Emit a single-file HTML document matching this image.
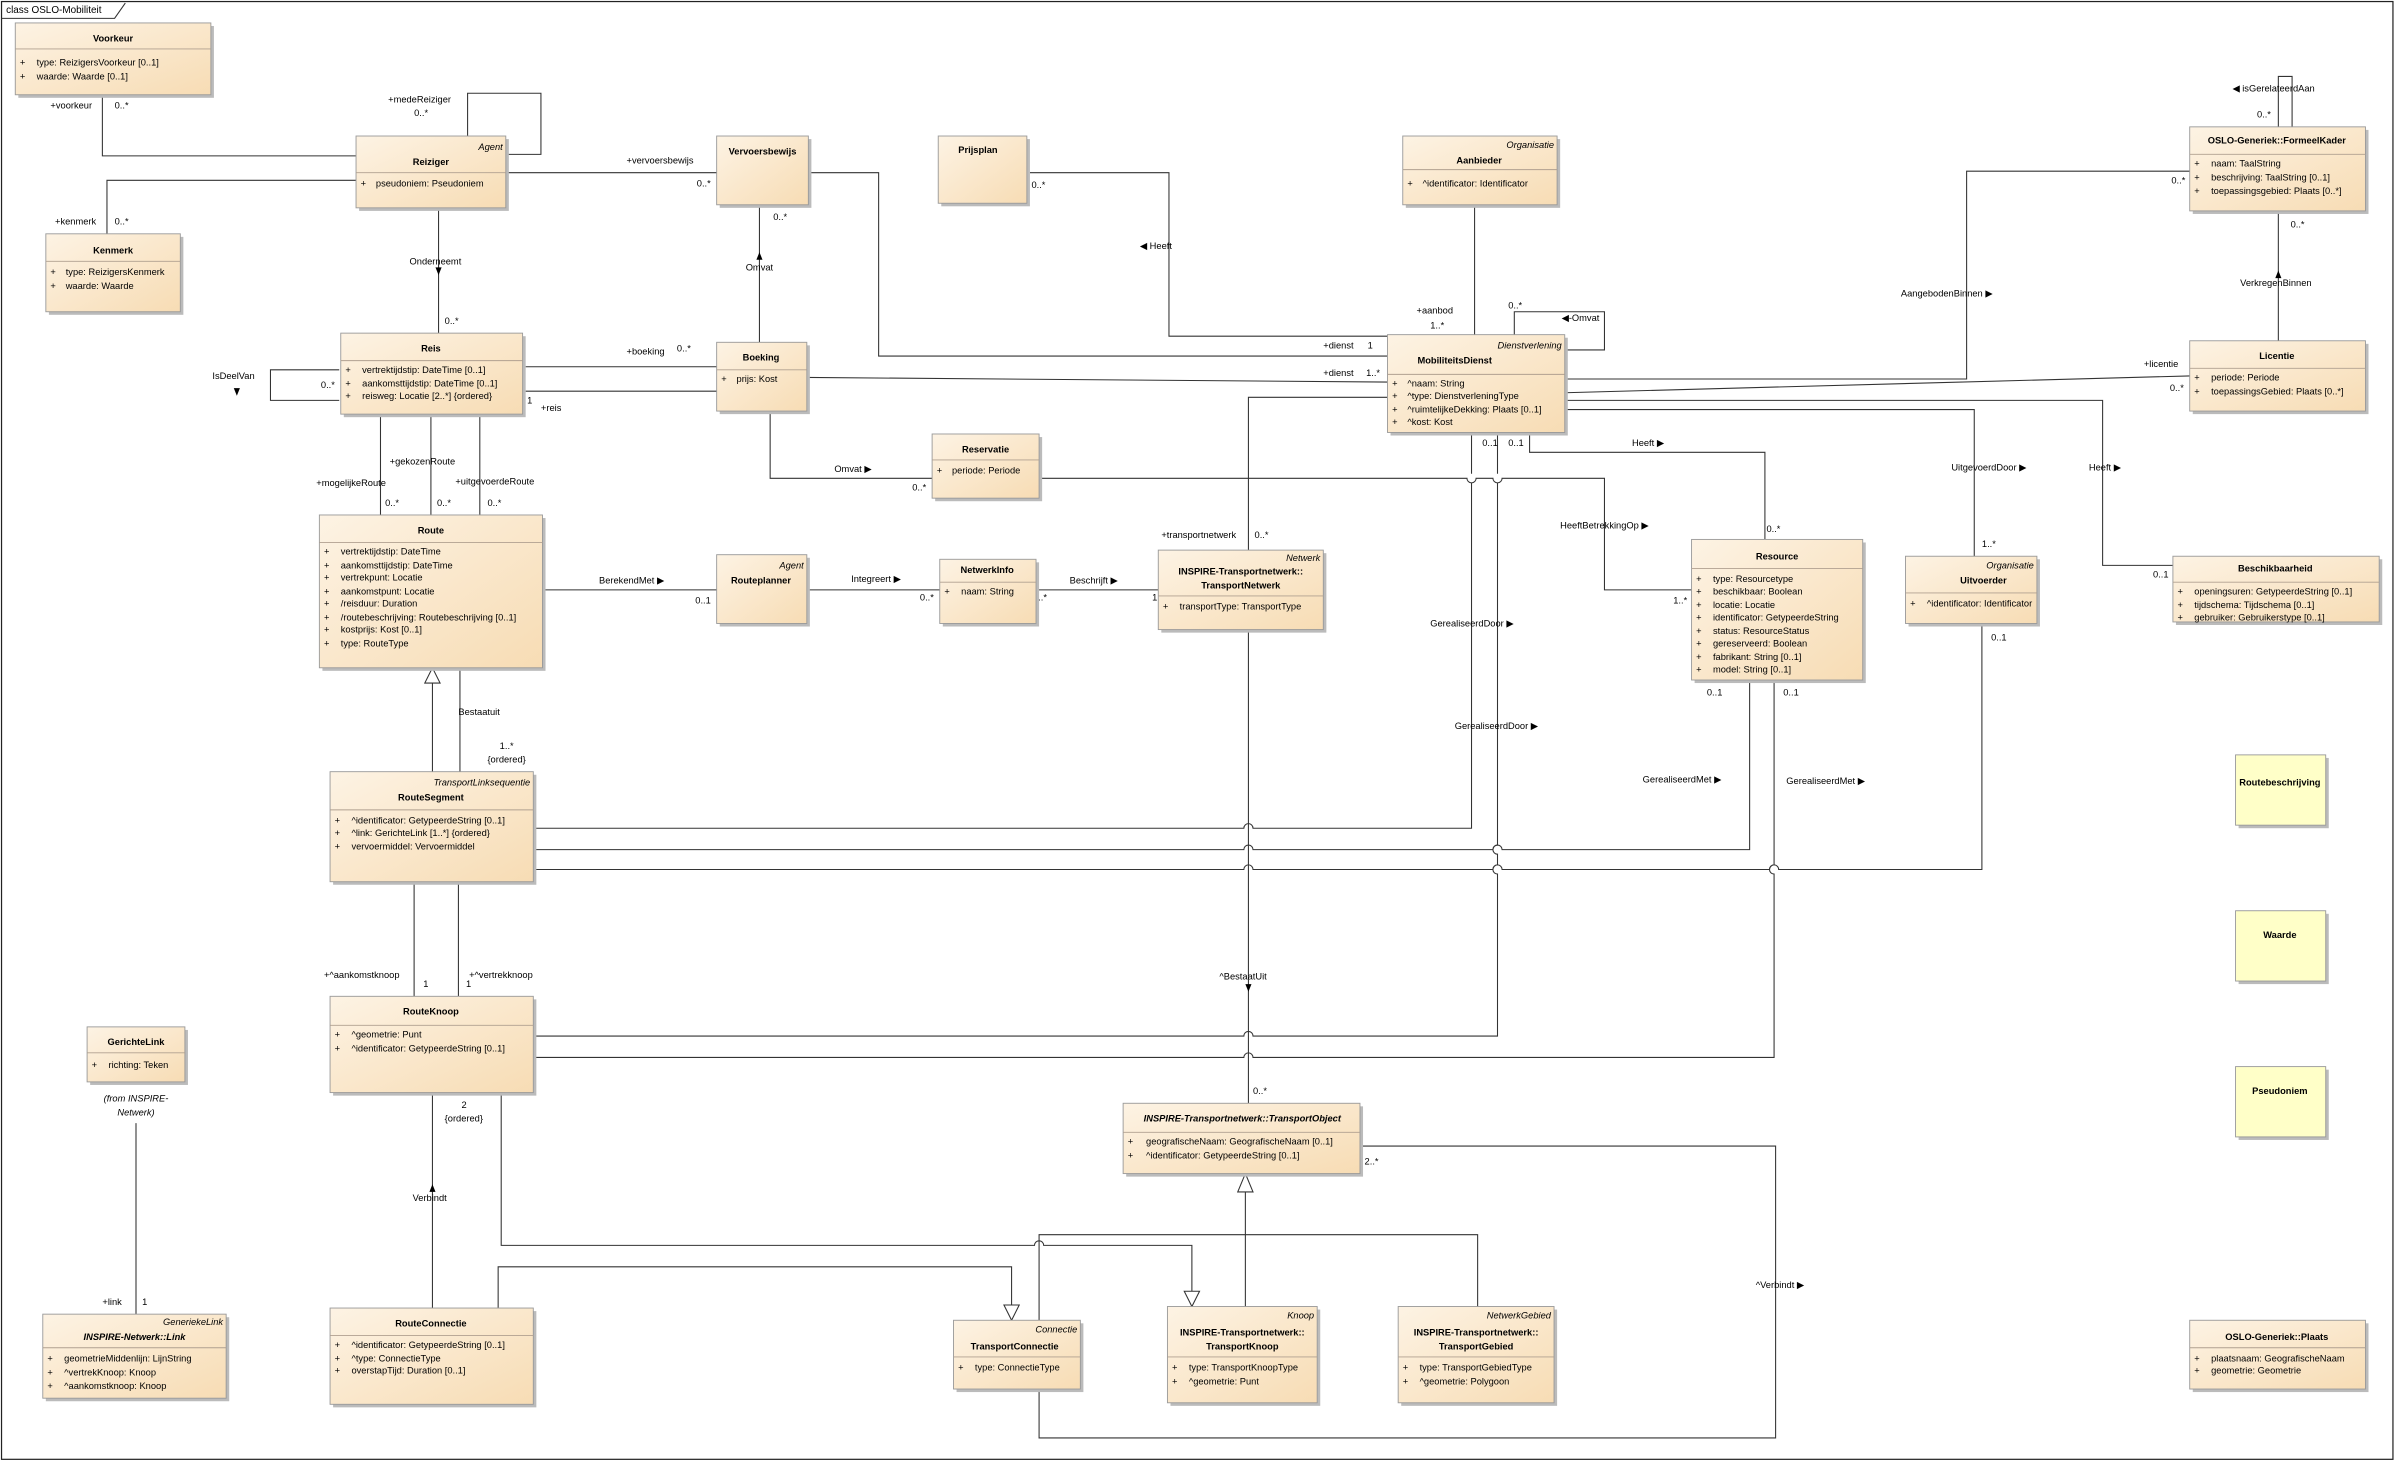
<!DOCTYPE html>
<html><head><meta charset="utf-8"><style>
html,body{margin:0;padding:0;background:#fff}
svg{display:block}
text{font-family:"Liberation Sans",sans-serif;font-size:6.1px;fill:#000}
.b{font-weight:bold;text-anchor:middle}
.i{font-style:italic}
.s{font-style:italic;text-anchor:end}
.m{text-anchor:middle}
.l{fill:none;stroke:#333;stroke-width:0.7}
.bx{fill:url(#g);stroke:#9a9a9a;stroke-width:0.6}
.sh{fill:#bbb}
.dv{stroke:#b0a090;stroke-width:0.6}
.n{fill:#ffffc8;stroke:#9a9a9a;stroke-width:0.6}
</style></head><body>
<svg width="2396" height="1463" viewBox="0 0 1568 957.4" xmlns="http://www.w3.org/2000/svg">
<defs>
<linearGradient id="g" x1="0" y1="0" x2="1" y2="1"><stop offset="0" stop-color="#fdf3e4"/><stop offset="1" stop-color="#f7dcb4"/></linearGradient>
<marker id="ta" markerWidth="6" markerHeight="6" refX="3" refY="3" orient="auto"></marker>
</defs>
<rect x="0" y="0" width="1568" height="957.4" fill="#fff"/>
<rect x="1" y="1" width="1565" height="954" fill="none" stroke="#222" stroke-width="0.8"/>
<path d="M1,12 H75 L82,2" class="l"/>
<text x="4" y="8.5" style="font-size:6.5px">class OSLO-Mobiliteit</text>

<!-- ============ CONNECTORS ============ -->
<g class="l">
<path d="M67,62 V102 H233"/>
<path d="M70,153 V118 H233"/>
<path d="M306,89 V61 H354 V101 H331"/>
<path d="M331,113 H469"/>
<path d="M287,135 V218"/>
<path d="M497,134 V224"/>
<path d="M222,242 H177 V262 H222"/>
<path d="M344,240 H470"/>
<path d="M344,256 H470"/>
<path d="M249,271 V337"/><path d="M282,271 V337"/><path d="M314,271 V337"/>
<path d="M504,269 V313 H610"/>
<path d="M528,247 L908,250"/>
<path d="M530,113 H575 V233 H908"/>
<path d="M674,113 H765 V220 H908"/>
<path d="M965,134 V219"/>
<path d="M991,219 V204 H1050 V229 H1024"/>
<path d="M1024,248 H1287 V112 H1433"/>
<path d="M1491,83 V50 H1500 V83"/>
<path d="M1491,138 V223"/>
<path d="M1024,257 L1433,246"/>
<path d="M1024,262 H1376 V370 H1422"/>
<path d="M1024,268 H1292 V364"/>
<path d="M1001,283 V296 H1155 V353"/>
<path d="M680,313 H960 a3,3 0 0 0 6,0 H977 a3,3 0 0 0 6,0 H1050 V386 H1107"/>
<path d="M908,260 H817 V360"/>
<path d="M963,283 V310 M963,316 V542 H820 a3,3 0 0 0 -6,0 H350"/>
<path d="M980,283 V310 M980,316 V553 a3,3 0 0 0 0,6 V566 a3,3 0 0 0 0,6 V678 H820 a3,3 0 0 0 -6,0 H350"/>
<path d="M1145,445 V556 H983 a3,3 0 0 0 -6,0 H966 V556 H820 a3,3 0 0 0 -6,0 H350"/>
<path d="M1297,408 V569 H1164 a3,3 0 0 0 -6,0 H983 a3,3 0 0 0 -6,0 H820 a3,3 0 0 0 -6,0 H350"/>
<path d="M1161,445 V566 a3,3 0 0 0 0,6 V692 H820 a3,3 0 0 0 -6,0 H350"/>
<path d="M817,412 V722"/>
<path d="M356,386 H469"/><path d="M528,386 H615"/><path d="M679,386 H758"/>
<path d="M283,505 V447"/>
<path d="M301,437 V505"/>
<path d="M271,577 V652"/><path d="M300,577 V652"/>
<path d="M283,715 V856"/>
<path d="M328,715 V815 H677 a3,3 0 0 1 6,0 H780 V845"/>
<path d="M326,856 V829 H662 V855"/>
<path d="M680,864 V808 H967 V855"/>
<path d="M815,855 V780"/>
<path d="M680,909 V941 H1162 V750 H891"/>
<path d="M89,735 V860"/>
</g>
<!-- hollow triangles -->
<g fill="#fff" stroke="#333" stroke-width="0.7">
<path d="M283,437 L278,447 H288 Z"/>
<path d="M815,768 L810,780 H820 Z"/>
<path d="M780,855 L775,845 H785 Z"/>
<path d="M662,864 L657,854 H667 Z"/>
</g>
<!-- direction arrows -->
<g fill="#000">
<path d="M285,175 h4 l-2,5 z"/>
<path d="M495,170 h4 l-2,-5 z"/>
<path d="M153,254 h4 l-2,5 z"/>
<path d="M281,780 h4 l-2,-5 z"/>
<path d="M815,644 h4 l-2,5 z"/>
<path d="M1489,182 h4 l-2,-5 z"/>
</g>

<!-- connector labels -->
<text x="33" y="71">+voorkeur</text><text x="75" y="71">0..*</text>
<text x="254" y="67">+medeReiziger</text><text x="271" y="76">0..*</text>
<text x="36" y="147">+kenmerk</text><text x="75" y="147">0..*</text>
<text x="410" y="107">+vervoersbewijs</text><text x="456" y="122">0..*</text>
<text x="268" y="173">Onderneemt</text><text x="291" y="212">0..*</text>
<text x="506" y="144">0..*</text><text x="488" y="177">Omvat</text>
<text x="139" y="248">IsDeelVan</text><text x="210" y="254">0..*</text>
<text x="410" y="232">+boeking</text><text x="443" y="230">0..*</text>
<text x="345" y="264">1</text><text x="354" y="269">+reis</text>
<text x="255" y="304">+gekozenRoute</text><text x="207" y="318">+mogelijkeRoute</text><text x="298" y="317">+uitgevoerdeRoute</text>
<text x="252" y="331">0..*</text><text x="286" y="331">0..*</text><text x="319" y="331">0..*</text>
<text x="546" y="309">Omvat ▶</text><text x="597" y="321">0..*</text>
<text x="866" y="228">+dienst</text><text x="895" y="228">1</text>
<text x="866" y="246">+dienst</text><text x="894" y="246">1..*</text>
<text x="675" y="123">0..*</text><text x="746" y="163">◀ Heeft</text>
<text x="927" y="205">+aanbod</text><text x="936" y="215">1..*</text>
<text x="987" y="202">0..*</text><text x="1022" y="210">◀-Omvat</text>
<text x="1244" y="194">AangebodenBinnen ▶</text><text x="1421" y="120">0..*</text>
<text x="1461" y="60">◀ isGerelateerdAan</text><text x="1477" y="77">0..*</text>
<text x="1499" y="149">0..*</text><text x="1466" y="187">VerkregenBinnen</text>
<text x="1403" y="240">+licentie</text><text x="1420" y="256">0..*</text>
<text x="1367" y="308">Heeft ▶</text><text x="1409" y="378">0..1</text>
<text x="1277" y="308">UitgevoerdDoor ▶</text><text x="1297" y="358">1..*</text>
<text x="1068" y="292">Heeft ▶</text><text x="1156" y="348">0..*</text>
<text x="970" y="292">0..1</text><text x="987" y="292">0..1</text>
<text x="1021" y="346">HeeftBetrekkingOp ▶</text><text x="1095" y="395">1..*</text>
<text x="760" y="352">+transportnetwerk</text><text x="821" y="352">0..*</text>
<text x="936" y="410">GerealiseerdDoor ▶</text><text x="952" y="477">GerealiseerdDoor ▶</text>
<text x="1075" y="512">GerealiseerdMet ▶</text><text x="1169" y="513">GerealiseerdMet ▶</text>
<text x="1117" y="455">0..1</text><text x="1167" y="455">0..1</text><text x="1303" y="419">0..1</text>
<text x="798" y="641">^BestaatUit</text><text x="820" y="716">0..*</text>
<text x="392" y="382">BerekendMet ▶</text><text x="455" y="395">0..1</text>
<text x="557" y="381">Integreert ▶</text><text x="602" y="393">0..*</text>
<text x="700" y="382">Beschrijft ▶</text><text x="676" y="393">0..*</text><text x="754" y="393">1</text>
<text x="300" y="468">Bestaatuit</text><text x="327" y="490">1..*</text><text x="319" y="499">{ordered}</text>
<text x="212" y="640">+^aankomstknoop</text><text x="277" y="646">1</text>
<text x="307" y="640">+^vertrekknoop</text><text x="305" y="646">1</text>
<text x="302" y="725">2</text><text x="291" y="734">{ordered}</text>
<text x="270" y="786">Verbindt</text>
<text x="1149" y="843">^Verbindt ▶</text><text x="893" y="762">2..*</text>
<text x="67" y="854">+link</text><text x="93" y="854">1</text>

<!-- ============ BOXES ============ -->
<!-- Voorkeur -->
<rect class="sh" x="12" y="17" width="128" height="47"/><rect class="bx" x="10" y="15" width="128" height="47"/>
<line class="dv" x1="10" y1="32" x2="138" y2="32"/>
<text class="b" x="74" y="27">Voorkeur</text>
<text x="13" y="43">+</text><text x="24" y="43">type: ReizigersVoorkeur [0..1]</text>
<text x="13" y="52">+</text><text x="24" y="52">waarde: Waarde [0..1]</text>
<!-- Reiziger -->
<rect class="sh" x="235" y="91" width="98" height="47"/><rect class="bx" x="233" y="89" width="98" height="47"/>
<line class="dv" x1="233" y1="113" x2="331" y2="113"/>
<text class="s" x="329" y="98">Agent</text>
<text class="b" x="282" y="108">Reiziger</text>
<text x="236" y="122">+</text><text x="246" y="122">pseudoniem: Pseudoniem</text>
<!-- Kenmerk -->
<rect class="sh" x="32" y="155" width="88" height="51"/><rect class="bx" x="30" y="153" width="88" height="51"/>
<line class="dv" x1="30" y1="171" x2="118" y2="171"/>
<text class="b" x="74" y="166">Kenmerk</text>
<text x="33" y="180">+</text><text x="43" y="180">type: ReizigersKenmerk</text>
<text x="33" y="189">+</text><text x="43" y="189">waarde: Waarde</text>
<!-- Vervoersbewijs -->
<rect class="sh" x="471" y="91" width="60" height="45"/><rect class="bx" x="469" y="89" width="60" height="45"/>
<text class="b" x="499" y="101">Vervoersbewijs</text>
<!-- Prijsplan -->
<rect class="sh" x="616" y="91" width="58" height="44"/><rect class="bx" x="614" y="89" width="58" height="44"/>
<text class="b" x="640" y="100">Prijsplan</text>
<!-- Aanbieder -->
<rect class="sh" x="920" y="91" width="101" height="45"/><rect class="bx" x="918" y="89" width="101" height="45"/>
<line class="dv" x1="918" y1="111" x2="1019" y2="111"/>
<text class="s" x="1017" y="97">Organisatie</text>
<text class="b" x="968" y="107">Aanbieder</text>
<text x="921" y="122">+</text><text x="931" y="122">^identificator: Identificator</text>
<!-- FormeelKader -->
<rect class="sh" x="1435" y="85" width="115" height="55"/><rect class="bx" x="1433" y="83" width="115" height="55"/>
<line class="dv" x1="1433" y1="101" x2="1548" y2="101"/>
<text class="b" x="1490" y="94">OSLO-Generiek::FormeelKader</text>
<text x="1436" y="109">+</text><text x="1447" y="109">naam: TaalString</text>
<text x="1436" y="118">+</text><text x="1447" y="118">beschrijving: TaalString [0..1]</text>
<text x="1436" y="127">+</text><text x="1447" y="127">toepassingsgebied: Plaats [0..*]</text>
<!-- Reis -->
<rect class="sh" x="225" y="220" width="119" height="53"/><rect class="bx" x="223" y="218" width="119" height="53"/>
<line class="dv" x1="223" y1="236" x2="342" y2="236"/>
<text class="b" x="282" y="230">Reis</text>
<text x="226" y="244">+</text><text x="237" y="244">vertrektijdstip: DateTime [0..1]</text>
<text x="226" y="253">+</text><text x="237" y="253">aankomsttijdstip: DateTime [0..1]</text>
<text x="226" y="261">+</text><text x="237" y="261">reisweg: Locatie [2..*] {ordered}</text>
<!-- Boeking -->
<rect class="sh" x="471" y="226" width="59" height="45"/><rect class="bx" x="469" y="224" width="59" height="45"/>
<line class="dv" x1="469" y1="242" x2="528" y2="242"/>
<text class="b" x="498" y="236">Boeking</text>
<text x="472" y="250">+</text><text x="482" y="250">prijs: Kost</text>
<!-- MobiliteitsDienst -->
<rect class="sh" x="910" y="221" width="116" height="64"/><rect class="bx" x="908" y="219" width="116" height="64"/>
<line class="dv" x1="908" y1="245" x2="1024" y2="245"/>
<text class="s" x="1022" y="228">Dienstverlening</text>
<text class="b" x="952" y="238">MobiliteitsDienst</text>
<text x="911" y="253">+</text><text x="921" y="253">^naam: String</text>
<text x="911" y="261">+</text><text x="921" y="261">^type: DienstverleningType</text>
<text x="911" y="270">+</text><text x="921" y="270">^ruimtelijkeDekking: Plaats [0..1]</text>
<text x="911" y="278">+</text><text x="921" y="278">^kost: Kost</text>
<!-- Licentie -->
<rect class="sh" x="1435" y="225" width="115" height="46"/><rect class="bx" x="1433" y="223" width="115" height="46"/>
<line class="dv" x1="1433" y1="241" x2="1548" y2="241"/>
<text class="b" x="1490" y="235">Licentie</text>
<text x="1436" y="249">+</text><text x="1447" y="249">periode: Periode</text>
<text x="1436" y="258">+</text><text x="1447" y="258">toepassingsGebied: Plaats [0..*]</text>
<!-- Reservatie -->
<rect class="sh" x="612" y="286" width="70" height="42"/><rect class="bx" x="610" y="284" width="70" height="42"/>
<line class="dv" x1="610" y1="301" x2="680" y2="301"/>
<text class="b" x="645" y="296">Reservatie</text>
<text x="613" y="310">+</text><text x="623" y="310">periode: Periode</text>
<!-- Route -->
<rect class="sh" x="211" y="339" width="146" height="100"/><rect class="bx" x="209" y="337" width="146" height="100"/>
<line class="dv" x1="209" y1="355" x2="355" y2="355"/>
<text class="b" x="282" y="349">Route</text>
<g>
<text x="212" y="363">+</text><text x="223" y="363">vertrektijdstip: DateTime</text>
<text x="212" y="372">+</text><text x="223" y="372">aankomsttijdstip: DateTime</text>
<text x="212" y="380">+</text><text x="223" y="380">vertrekpunt: Locatie</text>
<text x="212" y="389">+</text><text x="223" y="389">aankomstpunt: Locatie</text>
<text x="212" y="397">+</text><text x="223" y="397">/reisduur: Duration</text>
<text x="212" y="406">+</text><text x="223" y="406">/routebeschrijving: Routebeschrijving [0..1]</text>
<text x="212" y="414">+</text><text x="223" y="414">kostprijs: Kost [0..1]</text>
<text x="212" y="423">+</text><text x="223" y="423">type: RouteType</text>
</g>
<!-- Routeplanner -->
<rect class="sh" x="471" y="365" width="59" height="45"/><rect class="bx" x="469" y="363" width="59" height="45"/>
<text class="s" x="526" y="372">Agent</text>
<text class="b" x="498" y="382">Routeplanner</text>
<!-- NetwerkInfo -->
<rect class="sh" x="617" y="368" width="63" height="42"/><rect class="bx" x="615" y="366" width="63" height="42"/>
<line class="dv" x1="615" y1="381" x2="678" y2="381"/>
<text class="b" x="646" y="375">NetwerkInfo</text>
<text x="618" y="389">+</text><text x="629" y="389">naam: String</text>
<!-- TransportNetwerk -->
<rect class="sh" x="760" y="362" width="108" height="52"/><rect class="bx" x="758" y="360" width="108" height="52"/>
<line class="dv" x1="758" y1="390" x2="866" y2="390"/>
<text class="s" x="864" y="367">Netwerk</text>
<text class="b" x="812" y="376">INSPIRE-Transportnetwerk::</text>
<text class="b" x="812" y="385">TransportNetwerk</text>
<text x="761" y="399">+</text><text x="772" y="399">transportType: TransportType</text>
<!-- Resource -->
<rect class="sh" x="1109" y="355" width="112" height="92"/><rect class="bx" x="1107" y="353" width="112" height="92"/>
<line class="dv" x1="1107" y1="372" x2="1219" y2="372"/>
<text class="b" x="1163" y="366">Resource</text>
<text x="1110" y="381">+</text><text x="1121" y="381">type: Resourcetype</text>
<text x="1110" y="389">+</text><text x="1121" y="389">beschikbaar: Boolean</text>
<text x="1110" y="398">+</text><text x="1121" y="398">locatie: Locatie</text>
<text x="1110" y="406">+</text><text x="1121" y="406">identificator: GetypeerdeString</text>
<text x="1110" y="415">+</text><text x="1121" y="415">status: ResourceStatus</text>
<text x="1110" y="423">+</text><text x="1121" y="423">gereserveerd: Boolean</text>
<text x="1110" y="432">+</text><text x="1121" y="432">fabrikant: String [0..1]</text>
<text x="1110" y="440">+</text><text x="1121" y="440">model: String [0..1]</text>
<!-- Uitvoerder -->
<rect class="sh" x="1249" y="366" width="86" height="44"/><rect class="bx" x="1247" y="364" width="86" height="44"/>
<line class="dv" x1="1247" y1="388" x2="1333" y2="388"/>
<text class="s" x="1331" y="372">Organisatie</text>
<text class="b" x="1298" y="382">Uitvoerder</text>
<text x="1250" y="397">+</text><text x="1261" y="397">^identificator: Identificator</text>
<!-- Beschikbaarheid -->
<rect class="sh" x="1424" y="366" width="135" height="43"/><rect class="bx" x="1422" y="364" width="135" height="43"/>
<line class="dv" x1="1422" y1="381" x2="1557" y2="381"/>
<text class="b" x="1489" y="374">Beschikbaarheid</text>
<text x="1425" y="389">+</text><text x="1436" y="389">openingsuren: GetypeerdeString [0..1]</text>
<text x="1425" y="398">+</text><text x="1436" y="398">tijdschema: Tijdschema [0..1]</text>
<text x="1425" y="406">+</text><text x="1436" y="406">gebruiker: Gebruikerstype [0..1]</text>
<!-- RouteSegment -->
<rect class="sh" x="218" y="507" width="133" height="72"/><rect class="bx" x="216" y="505" width="133" height="72"/>
<line class="dv" x1="216" y1="530" x2="349" y2="530"/>
<text class="s" x="347" y="514">TransportLinksequentie</text>
<text class="b" x="282" y="524">RouteSegment</text>
<text x="219" y="539">+</text><text x="230" y="539">^identificator: GetypeerdeString [0..1]</text>
<text x="219" y="547">+</text><text x="230" y="547">^link: GerichteLink [1..*] {ordered}</text>
<text x="219" y="556">+</text><text x="230" y="556">vervoermiddel: Vervoermiddel</text>
<!-- RouteKnoop -->
<rect class="sh" x="218" y="654" width="133" height="63"/><rect class="bx" x="216" y="652" width="133" height="63"/>
<line class="dv" x1="216" y1="671" x2="349" y2="671"/>
<text class="b" x="282" y="664">RouteKnoop</text>
<text x="219" y="679">+</text><text x="230" y="679">^geometrie: Punt</text>
<text x="219" y="688">+</text><text x="230" y="688">^identificator: GetypeerdeString [0..1]</text>
<!-- GerichteLink -->
<rect class="sh" x="59" y="674" width="64" height="36"/><rect class="bx" x="57" y="672" width="64" height="36"/>
<line class="dv" x1="57" y1="689" x2="121" y2="689"/>
<text class="b" x="89" y="684">GerichteLink</text>
<text x="60" y="699">+</text><text x="71" y="699">richting: Teken</text>
<text class="i m" x="89" y="721">(from INSPIRE-</text>
<text class="i m" x="89" y="730">Netwerk)</text>
<!-- TransportObject -->
<rect class="sh" x="737" y="724" width="155" height="46"/><rect class="bx" x="735" y="722" width="155" height="46"/>
<line class="dv" x1="735" y1="741" x2="890" y2="741"/>
<text class="b i" x="813" y="734">INSPIRE-Transportnetwerk::TransportObject</text>
<text x="738" y="749">+</text><text x="750" y="749">geografischeNaam: GeografischeNaam [0..1]</text>
<text x="738" y="758">+</text><text x="750" y="758">^identificator: GetypeerdeString [0..1]</text>
<!-- notes -->
<rect class="sh" x="1465" y="496" width="59" height="46"/><rect class="n" x="1463" y="494" width="59" height="46"/>
<text class="b" x="1492" y="514">Routebeschrijving</text>
<rect class="sh" x="1465" y="598" width="59" height="46"/><rect class="n" x="1463" y="596" width="59" height="46"/>
<text class="b" x="1492" y="614">Waarde</text>
<rect class="sh" x="1465" y="700" width="59" height="46"/><rect class="n" x="1463" y="698" width="59" height="46"/>
<text class="b" x="1492" y="716">Pseudoniem</text>
<!-- Link -->
<rect class="sh" x="30" y="862" width="120" height="55"/><rect class="bx" x="28" y="860" width="120" height="55"/>
<line class="dv" x1="28" y1="882" x2="148" y2="882"/>
<text class="s" x="146" y="867">GeneriekeLink</text>
<text class="b i" x="88" y="877">INSPIRE-Netwerk::Link</text>
<text x="31" y="891">+</text><text x="42" y="891">geometrieMiddenlijn: LijnString</text>
<text x="31" y="900">+</text><text x="42" y="900">^vertrekKnoop: Knoop</text>
<text x="31" y="909">+</text><text x="42" y="909">^aankomstknoop: Knoop</text>
<!-- RouteConnectie -->
<rect class="sh" x="218" y="858" width="133" height="63"/><rect class="bx" x="216" y="856" width="133" height="63"/>
<line class="dv" x1="216" y1="874" x2="349" y2="874"/>
<text class="b" x="282" y="868">RouteConnectie</text>
<text x="219" y="882">+</text><text x="230" y="882">^identificator: GetypeerdeString [0..1]</text>
<text x="219" y="891">+</text><text x="230" y="891">^type: ConnectieType</text>
<text x="219" y="899">+</text><text x="230" y="899">overstapTijd: Duration [0..1]</text>
<!-- TransportConnectie -->
<rect class="sh" x="626" y="866" width="83" height="45"/><rect class="bx" x="624" y="864" width="83" height="45"/>
<line class="dv" x1="624" y1="888" x2="707" y2="888"/>
<text class="s" x="705" y="872">Connectie</text>
<text class="b" x="664" y="883">TransportConnectie</text>
<text x="627" y="897">+</text><text x="638" y="897">type: ConnectieType</text>
<!-- TransportKnoop -->
<rect class="sh" x="766" y="857" width="98" height="63"/><rect class="bx" x="764" y="855" width="98" height="63"/>
<line class="dv" x1="764" y1="888" x2="862" y2="888"/>
<text class="s" x="860" y="863">Knoop</text>
<text class="b" x="813" y="874">INSPIRE-Transportnetwerk::</text>
<text class="b" x="813" y="883">TransportKnoop</text>
<text x="767" y="897">+</text><text x="778" y="897">type: TransportKnoopType</text>
<text x="767" y="906">+</text><text x="778" y="906">^geometrie: Punt</text>
<!-- TransportGebied -->
<rect class="sh" x="917" y="857" width="102" height="63"/><rect class="bx" x="915" y="855" width="102" height="63"/>
<line class="dv" x1="915" y1="888" x2="1017" y2="888"/>
<text class="s" x="1015" y="863">NetwerkGebied</text>
<text class="b" x="966" y="874">INSPIRE-Transportnetwerk::</text>
<text class="b" x="966" y="883">TransportGebied</text>
<text x="918" y="897">+</text><text x="929" y="897">type: TransportGebiedType</text>
<text x="918" y="906">+</text><text x="929" y="906">^geometrie: Polygoon</text>
<!-- Plaats -->
<rect class="sh" x="1435" y="866" width="115" height="45"/><rect class="bx" x="1433" y="864" width="115" height="45"/>
<line class="dv" x1="1433" y1="882" x2="1548" y2="882"/>
<text class="b" x="1490" y="877">OSLO-Generiek::Plaats</text>
<text x="1436" y="891">+</text><text x="1447" y="891">plaatsnaam: GeografischeNaam</text>
<text x="1436" y="899">+</text><text x="1447" y="899">geometrie: Geometrie</text>
</svg>
</body></html>
